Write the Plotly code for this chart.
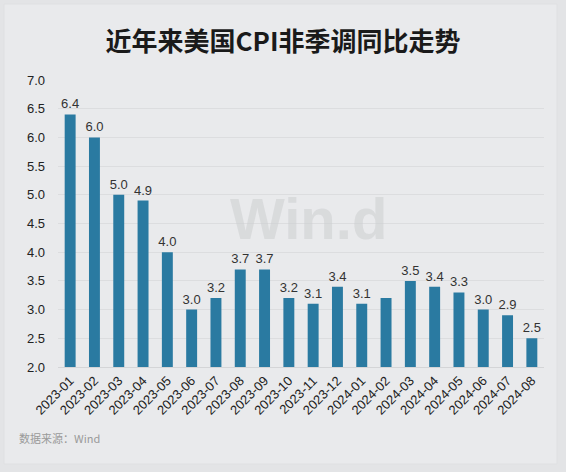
import plotly.graph_objects as go

# US CPI (not seasonally adjusted) YoY, %
months = ["2023-01", "2023-02", "2023-03", "2023-04", "2023-05", "2023-06", "2023-07",
          "2023-08", "2023-09", "2023-10", "2023-11", "2023-12", "2024-01", "2024-02",
          "2024-03", "2024-04", "2024-05", "2024-06", "2024-07", "2024-08"]
cpi_yoy = [6.4, 6.0, 5.0, 4.9, 4.0, 3.0, 3.2, 3.7, 3.7, 3.2, 3.1, 3.4, 3.1, 3.2,
           3.5, 3.4, 3.3, 3.0, 2.9, 2.5]
# the source leaves the 2024-02 bar unlabelled
bar_labels = ["" if m == "2024-02" else f"{v:.1f}" for m, v in zip(months, cpi_yoy)]
y_ticks = [2.0, 2.5, 3.0, 3.5, 4.0, 4.5, 5.0, 5.5, 6.0, 6.5, 7.0]

W, H = 566, 472
L, R, T, B = 58, 22, 80, 105
pw, ph = W - L - R, H - T - B

def px_x(x):  # pixel -> paper x
    return (x - L) / pw

def px_y(y):  # pixel -> paper y
    return (H - B - y) / ph

outer_bg = "#e3e4e6"
card_bg = "#e9eaec"
font_cjk = "Noto Sans CJK SC, Liberation Sans, Arial, sans-serif"
font_num = "Liberation Sans, Arial, sans-serif"

fig = go.Figure()
fig.add_trace(go.Bar(
    x=months, y=cpi_yoy,
    marker=dict(color="#2a7aa1", line=dict(width=0)),
    text=bar_labels, textposition="outside", constraintext="none",
    textfont=dict(size=13, color="#333333", family=font_num),
    cliponaxis=False,
))

fig.update_layout(
    width=W, height=H,
    paper_bgcolor=outer_bg, plot_bgcolor="rgba(0,0,0,0)",
    margin=dict(l=L, r=R, t=T, b=B),
    bargap=0.55,
    showlegend=False,
    title=dict(text="<b>近年来美国CPI非季调同比走势</b>", x=0.5, xanchor="center",
               y=1 - 42 / H, yanchor="middle",
               font=dict(size=26, color="#1a1a1a", family=font_cjk)),
    xaxis=dict(type="category", tickangle=-45, automargin=False,
               tickfont=dict(size=13, color="#222222", family=font_num),
               showgrid=False, showline=True, linecolor="#d4d5d7", ticks=""),
    yaxis=dict(range=[2.0, 7.0], tickvals=y_ticks, ticktext=[f"{t:.1f}" for t in y_ticks],
               automargin=False, ticklabelstandoff=12,
               tickfont=dict(size=13, color="#222222", family=font_num),
               showgrid=True, gridcolor="#dcdddf", zeroline=False, ticks=""),
    shapes=[
        dict(type="rect", xref="paper", yref="paper", layer="below",
             x0=px_x(4), x1=px_x(557), y0=px_y(464), y1=px_y(4),
             fillcolor=card_bg, line=dict(color="#dfe0e2", width=1)),
    ],
    annotations=[
        dict(text="数据来源：Wind", xref="paper", yref="paper",
             x=px_x(17), xanchor="left", y=px_y(438), yanchor="middle",
             showarrow=False, font=dict(size=11, color="#9a9a9a", family=font_cjk)),
        dict(text="<b>Win.d</b>", xref="paper", yref="paper",
             x=px_x(308), y=px_y(218), xanchor="center", yanchor="middle",
             showarrow=False, font=dict(size=58, color="rgba(204,205,208,0.55)",
                                        family=font_num)),
    ],
)

# drop the default 8px body margin so the figure sits at the page origin
fig.write_html("out.html", config={"displayModeBar": False},
               post_script="document.body.style.margin='0px';")
